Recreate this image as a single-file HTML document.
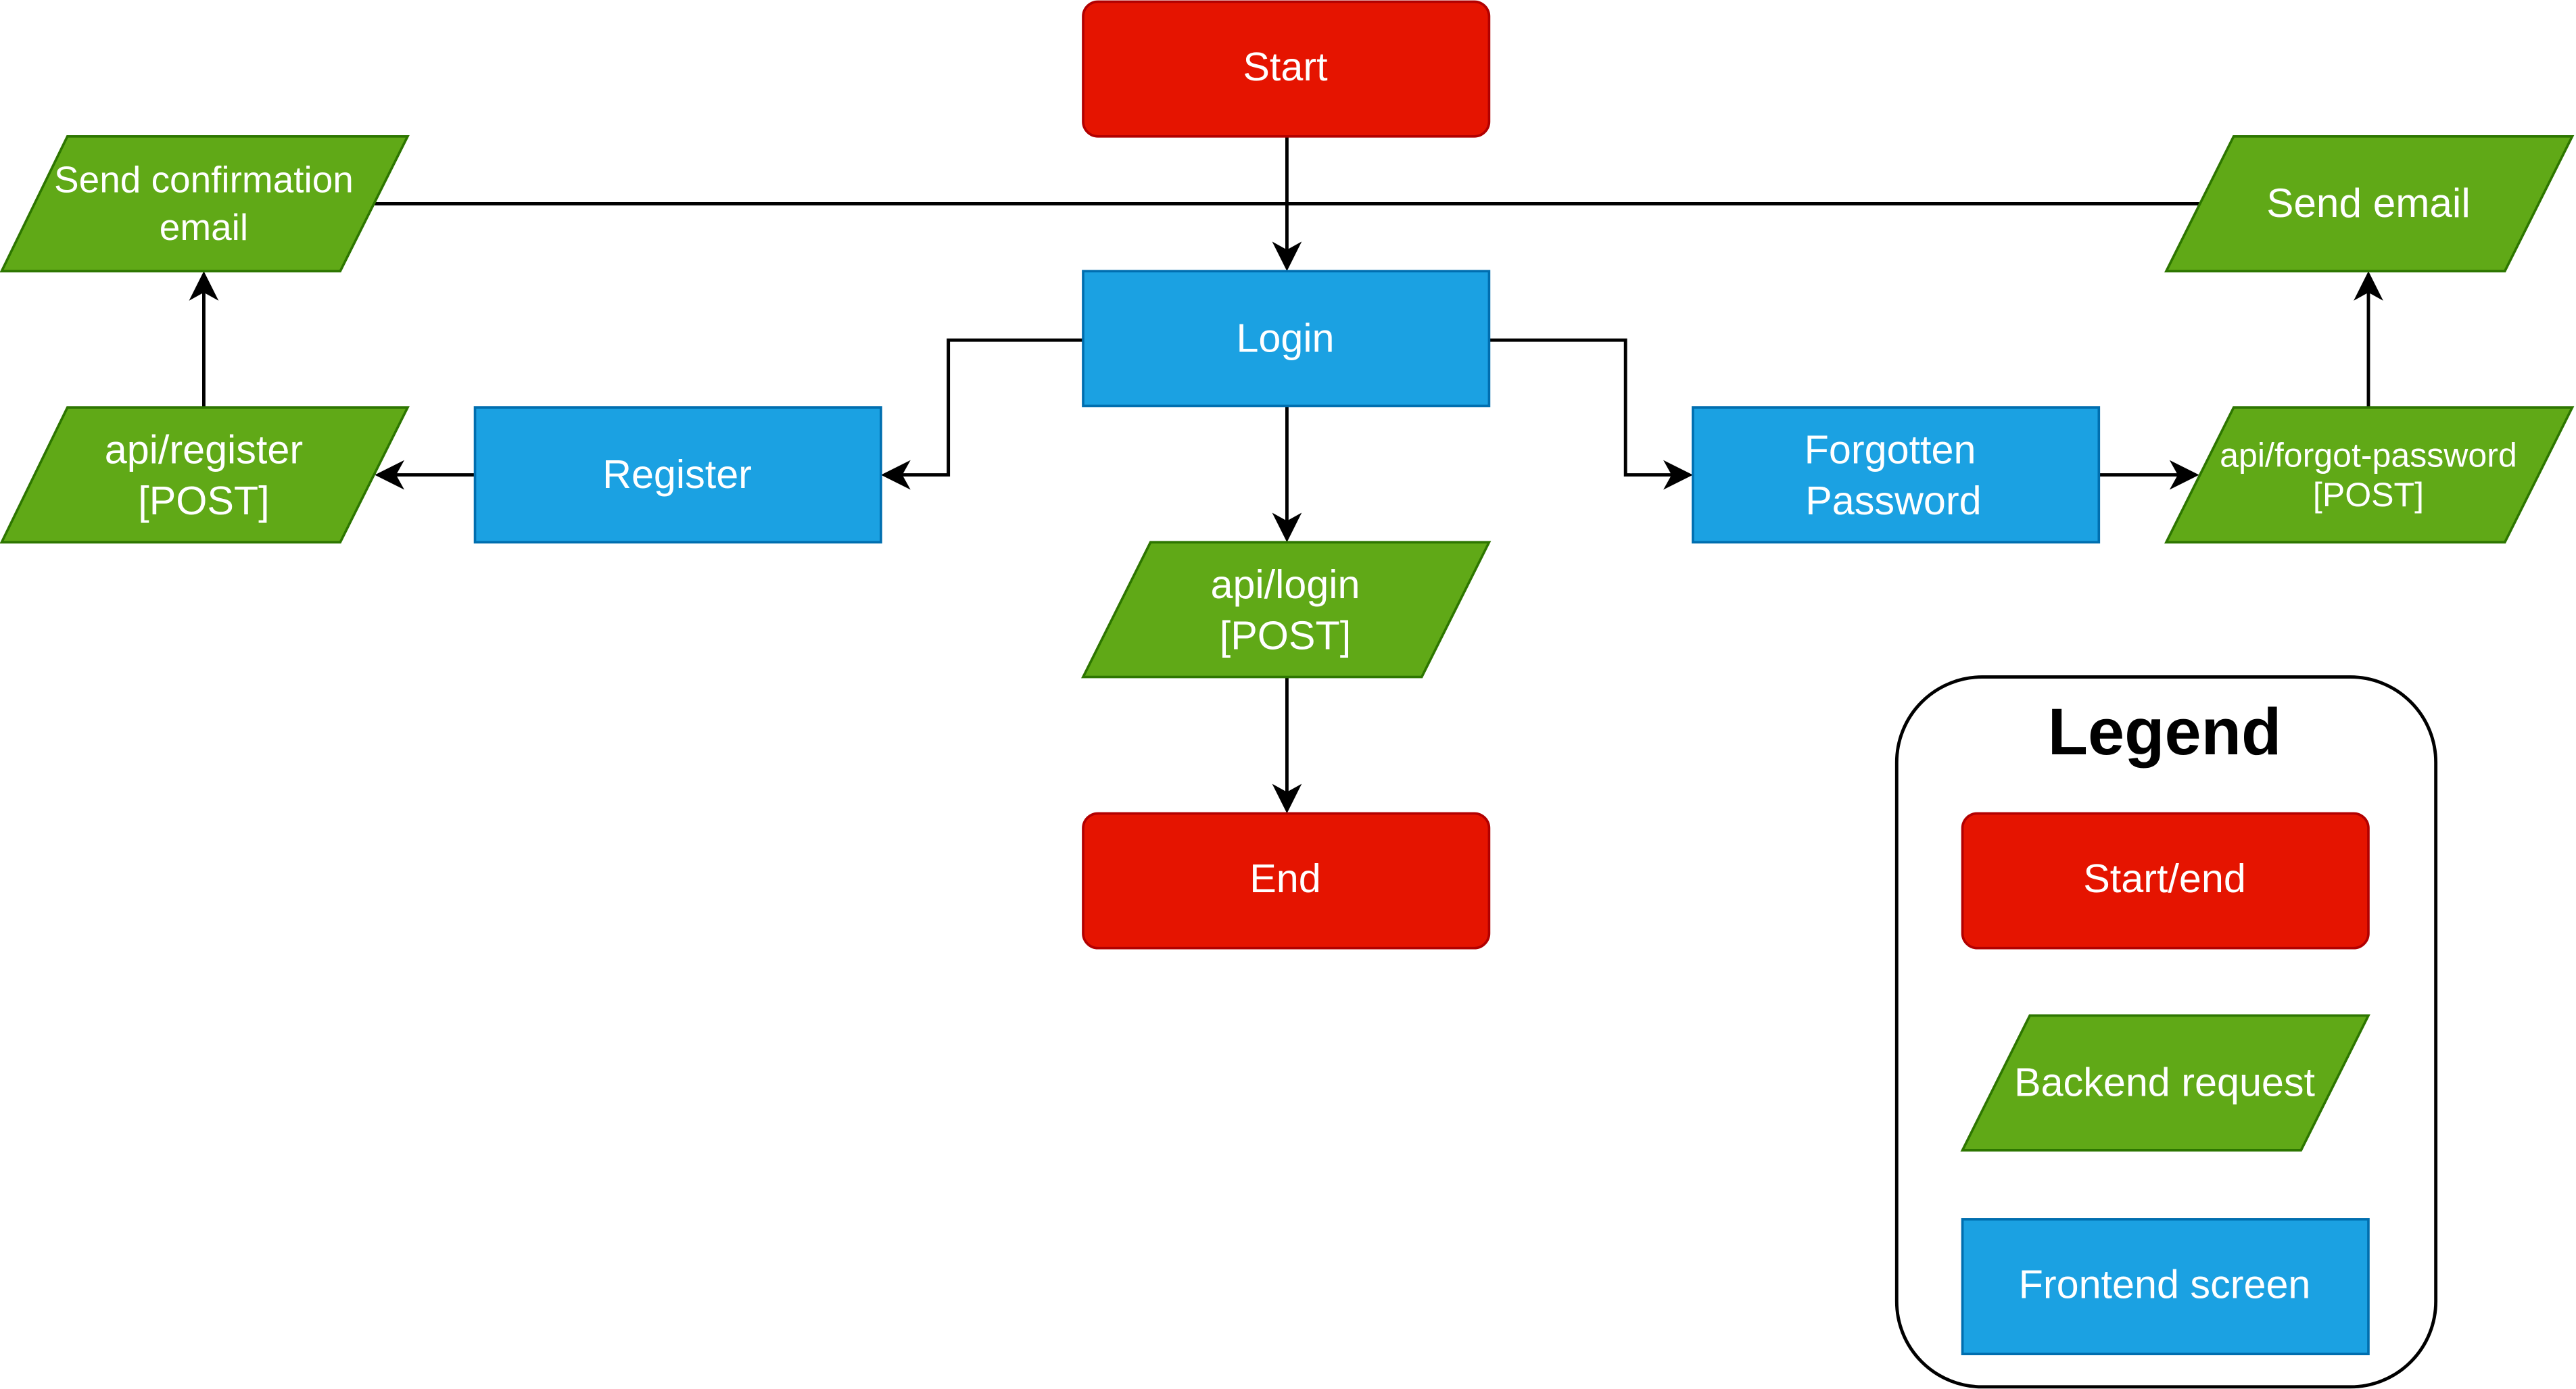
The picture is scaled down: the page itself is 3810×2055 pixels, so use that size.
<!DOCTYPE html>
<html><head><meta charset="utf-8"><style>
html,body{margin:0;padding:0;background:#fff;}
svg{display:block;}
text{font-family:"Liberation Sans",sans-serif;fill:#fff;text-anchor:middle;}
</style></head><body>
<svg width="3810" height="2055" viewBox="0 0 1567.3 845.3" preserveAspectRatio="none" xmlns="http://www.w3.org/2000/svg">
<g stroke="#000" stroke-width="2" fill="none">
<line x1="228" y1="124" x2="1338" y2="124"/>
<line x1="783" y1="83" x2="783" y2="158"/>
<polyline points="659,207 577,207 577,289 543,289"/>
<polyline points="906,207 989,207 989,289 1023,289"/>
<line x1="289" y1="289" x2="235" y2="289"/>
<line x1="124" y1="248" x2="124" y2="172"/>
<line x1="1277" y1="289" x2="1331" y2="289"/>
<line x1="1441" y1="248" x2="1441" y2="172"/>
<line x1="783" y1="247" x2="783" y2="323"/>
<line x1="783" y1="412" x2="783" y2="488"/>
</g>
<g fill="#000">
<path d="M783,165 l-9,-18 l9,5 l9,-5z"/>
<path d="M783,330 l-9,-18 l9,5 l9,-5z"/>
<path d="M783,495 l-9,-18 l9,5 l9,-5z"/>
<path d="M124,165 l-9,18 l9,-5 l9,5z"/>
<path d="M1441,165 l-9,18 l9,-5 l9,5z"/>
<path d="M536,289 l18,-9 l-5,9 l5,9z"/>
<path d="M228,289 l18,-9 l-5,9 l5,9z"/>
<path d="M1030,289 l-18,-9 l5,9 l-5,9z"/>
<path d="M1338,289 l-18,-9 l5,9 l-5,9z"/>
</g>
<g stroke-width="1.5">
<rect x="659" y="1" width="247" height="82" rx="9" fill="#e51400" stroke="#b20000"/>
<rect x="659" y="495" width="247" height="82" rx="9" fill="#e51400" stroke="#b20000"/>
<rect x="659" y="165" width="247" height="82" fill="#1ba1e2" stroke="#006eaf"/>
<rect x="289" y="248" width="247" height="82" fill="#1ba1e2" stroke="#006eaf"/>
<rect x="1030" y="248" width="247" height="82" fill="#1ba1e2" stroke="#006eaf"/>
<g fill="#60a917" stroke="#2d7600">
<polygon points="41,83 248,83 207,165 1,165"/>
<polygon points="41,248 248,248 207,330 1,330"/>
<polygon points="1359,83 1565,83 1524,165 1318,165"/>
<polygon points="1359,248 1565,248 1524,330 1318,330"/>
<polygon points="700,330 906,330 865,412 659,412"/>
<polygon points="1235,618 1441,618 1400,700 1194,700"/>
</g>
<rect x="1154" y="412" width="328" height="432" rx="52" fill="none" stroke="#000" stroke-width="2"/>
<rect x="1194" y="495" width="247" height="82" rx="9" fill="#e51400" stroke="#b20000"/>
<rect x="1194" y="742" width="247" height="82" fill="#1ba1e2" stroke="#006eaf"/>
</g>
<g font-size="24.4">
<text x="782" y="49">Start</text>
<text x="782" y="214">Login</text>
<text x="782" y="543">End</text>
<text x="412" y="297">Register</text>
<text x="1150" y="282">Forgotten</text>
<text x="1152" y="313">Password</text>
<text x="782" y="364">api/login</text>
<text x="782" y="395">[POST]</text>
<text x="124" y="282">api/register</text>
<text x="124" y="313">[POST]</text>
<text x="1441" y="132" font-size="24.8">Send email</text>
<text x="124" y="117" font-size="22.6">Send confirmation</text>
<text x="124" y="146" font-size="22.6">email</text>
<text x="1441" y="284" font-size="20.6">api/forgot-password</text>
<text x="1441" y="308" font-size="20.6">[POST]</text>
<text x="1317" y="543">Start/end</text>
<text x="1317" y="667">Backend request</text>
<text x="1317" y="790">Frontend screen</text>
<text x="1317" y="459" font-size="40" font-weight="bold" style="fill:#000">Legend</text>
</g>
</svg>
</body></html>
